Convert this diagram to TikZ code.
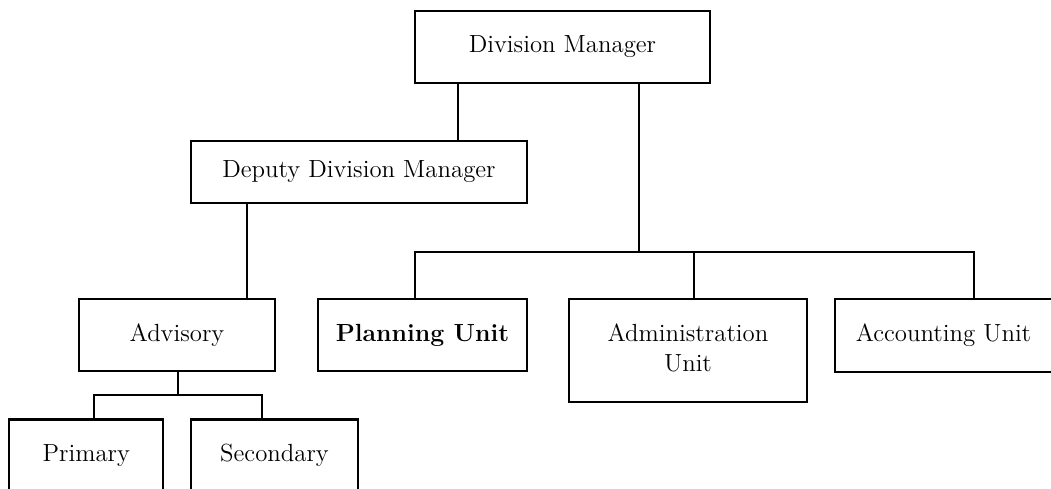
\documentclass[tikz,border=0pt]{standalone}
\usepackage{fontspec}
\begin{document}
\begin{tikzpicture}[x=0.5pt,y=-0.5pt,
  unitbox/.style 2 args={draw, line width=1.1pt, inner sep=0pt, align=center,
    font=\fontsize{12.4}{15}\selectfont,
    minimum width=#1*0.5pt, minimum height=#2*0.5pt},
  link/.style={line width=1.1pt}]
\useasboundingbox (0,0) rectangle (1051,488);

% boxes of the chart
\node[unitbox={295}{72}]    (dm)   at (562.5,47)   {Division Manager};
\node[unitbox={336}{62}]    (dep)  at (359,172)    {Deputy Division Manager};
\node[unitbox={196}{72}]    (adv)  at (177,335)    {Advisory};
\node[unitbox={154}{72}]    (pri)  at (86.3,455.5) {Primary};
\node[unitbox={167.6}{72}]  (sec)  at (274.5,455.5){Secondary};
\node[unitbox={209}{72}]    (plan) at (422.5,335)  {\textbf{Planning Unit}};
\node[unitbox={238}{103}]   (adm)  at (688,350.5)
  {\raisebox{3pt}{\begin{tabular}{@{}c@{}}Administration\\Unit\end{tabular}}};
\node[unitbox={217}{73}]    (acc)  at (943.5,335.5){Accounting Unit};

% positions of the connector legs
\coordinate (xa)   at (458,0);
\coordinate (xb)   at (639,0);
\coordinate (xc)   at (247,0);
\coordinate (xd)   at (177.7,0);
\coordinate (xpl)  at (414.7,0);
\coordinate (xad)  at (694,0);
\coordinate (xac)  at (973.7,0);
\coordinate (xpr)  at (93.7,0);
\coordinate (xse)  at (261.7,0);
\coordinate (bus)  at (0,252);
\coordinate (sub)  at (0,395.3);

% connectors
\draw[link] (dm.south -| xa) -- (dep.north -| xa);
\draw[link] (dm.south -| xb) -- (xb |- bus);
\draw[link] (plan.north -| xpl) -- (xpl |- bus) -- (xac |- bus) -- (acc.north -| xac);
\draw[link] (adm.north -| xad) -- (xad |- bus);
\draw[link] (dep.south -| xc) -- (adv.north -| xc);
\draw[link] (adv.south -| xd) -- (xd |- sub);
\draw[link] (pri.north -| xpr) -- (xpr |- sub) -- (xse |- sub) -- (sec.north -| xse);
\end{tikzpicture}
\end{document}
